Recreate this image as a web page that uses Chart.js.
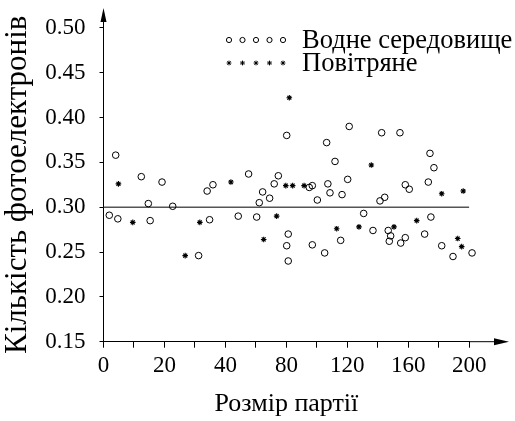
<!DOCTYPE html>
<html>
<head>
<meta charset="utf-8">
<script src="https://cdn.jsdelivr.net/npm/chart.js@4.4.1/dist/chart.umd.min.js"></script>
<style>
    html, body { margin: 0; padding: 0; background: #fff; }
</style>
</head>
<body>
<canvas id="chart" width="515" height="421"></canvas>
<script>
// x axis is labelled unevenly: 0, 20, 40, then steps of 40
const xTickValues = [0, 20, 40, 80, 120, 160, 200];
const yTicks = [0.15, 0.20, 0.25, 0.30, 0.35, 0.40, 0.45, 0.50];

const waterLabel = 'Водне середовище';
const waterX = [4.0, 12.4, 19.2, 14.7, 1.9, 4.7, 15.3, 22.7, 34.0, 35.9, 34.8, 31.2,
    55.2, 74.7, 72.0, 64.4, 69.0, 62.2, 48.4, 60.5, 80.2, 81.2, 80.2, 81.2,
    106.4, 111.9, 107.2, 97.0, 95.0, 108.6, 116.5, 100.3, 121.2, 142.5, 120.2, 144.5,
    141.4, 130.7, 136.8, 146.8, 148.4, 147.5, 115.6, 97.0, 105.1, 154.5, 158.0, 160.6,
    155.0, 158.0, 174.2, 176.8, 173.1, 174.8, 170.7, 181.9, 189.3, 201.8];
const waterY = [0.358, 0.334, 0.328, 0.304, 0.291, 0.287, 0.285, 0.301, 0.318, 0.325, 0.286, 0.246,
    0.337, 0.335, 0.326, 0.317, 0.310, 0.305, 0.290, 0.289, 0.380, 0.270, 0.257, 0.240,
    0.372, 0.351, 0.326, 0.324, 0.322, 0.316, 0.314, 0.308, 0.390, 0.383, 0.331, 0.311,
    0.307, 0.293, 0.274, 0.274, 0.268, 0.262, 0.263, 0.258, 0.249, 0.383, 0.325, 0.320,
    0.260, 0.266, 0.360, 0.344, 0.328, 0.289, 0.270, 0.257, 0.245, 0.249];

const airLabel = 'Повітряне';
const airX = [4.9, 9.6, 31.6, 26.8, 43.6, 73.6, 65.1, 81.9, 79.6, 84.1,
    91.6, 135.7, 113.0, 127.6, 150.6, 181.9, 196.0, 165.5, 192.4, 195.0];
const airY = [0.326, 0.283, 0.283, 0.246, 0.328, 0.290, 0.264, 0.422, 0.324, 0.324,
    0.324, 0.347, 0.276, 0.278, 0.278, 0.315, 0.318, 0.285, 0.265, 0.256];

const refX = [0, 200];
const refY = [0.30, 0.30];

const FONT = '"Liberation Serif", "Times New Roman", serif';

// map a batch size onto the evenly spaced tick positions
function toAxis(v) {
    for (let i = 1; i < xTickValues.length; i++) {
        if (v <= xTickValues[i] || i === xTickValues.length - 1) {
            const a = xTickValues[i - 1], b = xTickValues[i];
            return (i - 1) + (v - a) / (b - a);
        }
    }
}

function drawCircle(ctx, x, y, r) {
    ctx.beginPath();
    ctx.arc(x, y, r, 0, Math.PI * 2);
    ctx.stroke();
}

function drawStar(ctx, x, y, r) {
    ctx.beginPath();
    ctx.moveTo(x - r, y); ctx.lineTo(x + r, y);
    ctx.moveTo(x, y - r); ctx.lineTo(x, y + r);
    const d = r * 0.7071;
    ctx.moveTo(x - d, y - d); ctx.lineTo(x + d, y + d);
    ctx.moveTo(x - d, y + d); ctx.lineTo(x + d, y - d);
    ctx.stroke();
}

// axis arrows + legend with five markers per row
const decorPlugin = {
    id: 'decor',
    afterDraw(chart) {
        const ctx = chart.ctx;
        const { left, right, top, bottom } = chart.chartArea;
        ctx.save();
        ctx.strokeStyle = '#000';
        ctx.fillStyle = '#000';
        ctx.lineWidth = 1;

        ctx.beginPath();
        ctx.moveTo(right, bottom); ctx.lineTo(496, bottom);
        ctx.moveTo(left, top); ctx.lineTo(left, 20);
        ctx.stroke();

        ctx.beginPath();
        ctx.moveTo(509, bottom);
        ctx.lineTo(494, bottom - 3.5);
        ctx.lineTo(494, bottom + 3.5);
        ctx.closePath();
        ctx.fill();

        ctx.beginPath();
        ctx.moveTo(left, 8);
        ctx.lineTo(left - 3, 22);
        ctx.lineTo(left + 3, 22);
        ctx.closePath();
        ctx.fill();

        const rows = [
            { label: chart.data.datasets[0].label, y: 40, draw: drawCircle, r: 2.6 },
            { label: chart.data.datasets[1].label, y: 63, draw: drawStar, r: 2.4 }
        ];
        ctx.font = '26.5px ' + FONT;
        ctx.textBaseline = 'middle';
        ctx.textAlign = 'left';
        rows.forEach(row => {
            for (let i = 0; i < 5; i++) {
                row.draw(ctx, 229 + i * 13.5, row.y, row.r);
            }
            ctx.fillText(row.label, 302, row.y + 1);
        });
        ctx.restore();
    }
};

const ctx = document.getElementById('chart').getContext('2d');
Chart.defaults.font.family = FONT;
Chart.defaults.color = '#000';

new Chart(ctx, {
    type: 'scatter',
    data: {
        datasets: [
            {
                label: waterLabel,
                data: waterX.map((x, i) => ({ x: toAxis(x), y: waterY[i] })),
                pointStyle: 'circle',
                pointRadius: 3.3,
                pointBorderWidth: 1,
                borderColor: '#000',
                backgroundColor: 'rgba(0,0,0,0)',
                clip: false
            },
            {
                label: airLabel,
                data: airX.map((x, i) => ({ x: toAxis(x), y: airY[i] })),
                pointStyle: 'star',
                pointRadius: 2.8,
                pointBorderWidth: 1.1,
                borderColor: '#000',
                backgroundColor: '#000',
                clip: false
            },
            {
                type: 'line',
                label: 'ref',
                data: refX.map((x, i) => ({ x: toAxis(x), y: refY[i] })),
                borderColor: '#555',
                borderWidth: 1.5,
                pointRadius: 0,
                fill: false
            }
        ]
    },
    options: {
        responsive: false,
        animation: false,
        events: [],
        layout: { padding: { left: 0, top: 19.7, right: 45.7, bottom: 0 } },
        plugins: {
            legend: { display: false },
            tooltip: { enabled: false }
        },
        scales: {
            x: {
                type: 'linear',
                min: 0,
                max: xTickValues.length - 1,
                afterFit: scale => { scale.height = 79.3; },
                afterBuildTicks: scale => {
                    const t = [];
                    for (let p = 0; p <= xTickValues.length - 1; p += 0.5) t.push({ value: p });
                    scale.ticks = t;
                },
                grid: { drawOnChartArea: false, tickLength: 6, color: '#000' },
                border: { display: true, color: '#000', width: 1 },
                ticks: {
                    padding: 4,
                    maxRotation: 0,
                    autoSkip: false,
                    font: { size: 23 },
                    callback: v => Number.isInteger(v) ? String(xTickValues[v]) : ''
                },
                title: {
                    display: true,
                    text: 'Розмір партії',
                    font: { size: 26 },
                    padding: { top: 0, bottom: 1 }
                }
            },
            y: {
                min: 0.15,
                max: 0.50,
                afterFit: scale => { scale.width = 103.5; },
                afterBuildTicks: scale => {
                    scale.ticks = yTicks.map(v => ({ value: v }));
                },
                grid: { drawOnChartArea: false, tickLength: 4, color: '#000' },
                border: { display: true, color: '#000', width: 1 },
                ticks: {
                    padding: 14,
                    font: { size: 23 },
                    callback: v => v.toFixed(2)
                },
                title: {
                    display: true,
                    text: 'Кількість фотоелектронів',
                    font: { size: 31, lineHeight: 1.0 },
                    padding: { top: 2, bottom: 0 }
                }
            }
        }
    },
    plugins: [decorPlugin]
});
</script>
</body>
</html>
